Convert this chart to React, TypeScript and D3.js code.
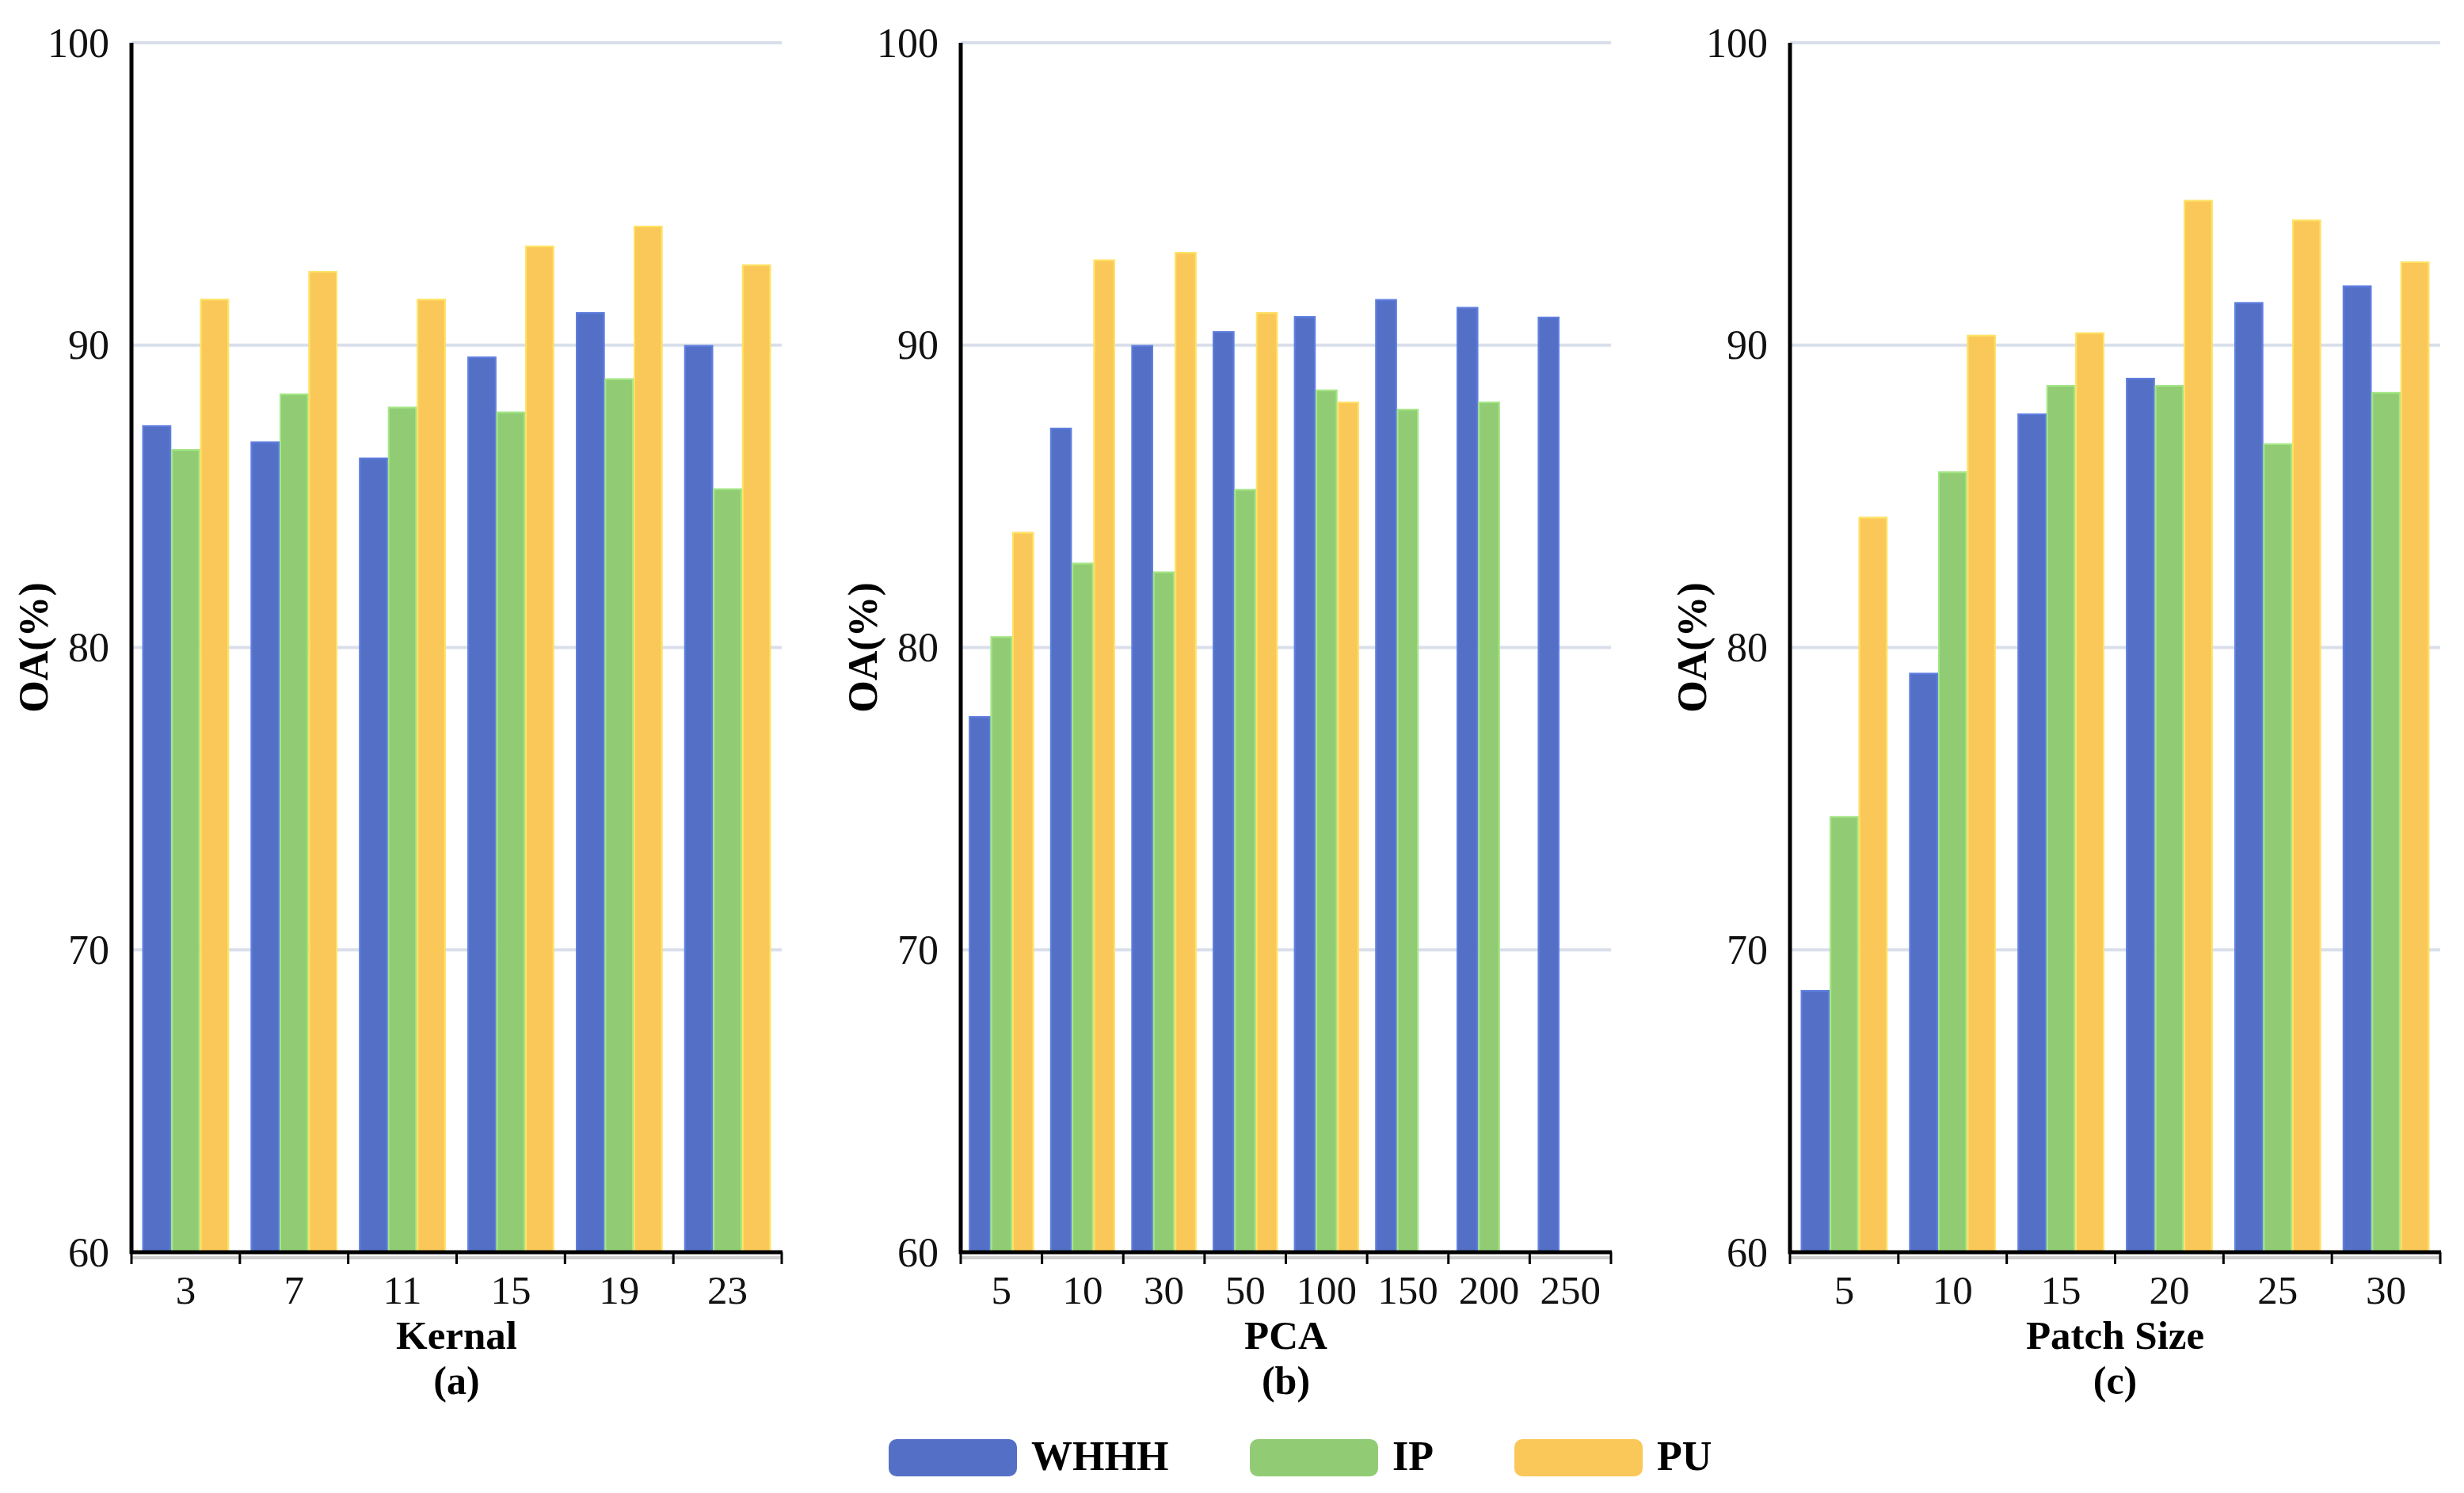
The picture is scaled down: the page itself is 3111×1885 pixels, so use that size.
import React from "react";
import * as d3 from "d3";

// ---- data ----
const kernelCats = ["3", "7", "11", "15", "19", "23"];
const kernelWHHH = [87.35, 86.81, 86.28, 89.62, 91.09, 90.0];
const kernelIP = [86.56, 88.4, 87.96, 87.8, 88.9, 85.26];
const kernelPU = [91.53, 92.45, 91.53, 93.29, 93.95, 92.67];

const pcaCats = ["5", "10", "30", "50", "100", "150", "200", "250"];
const pcaWHHH = [77.73, 87.27, 90.0, 90.46, 90.96, 91.52, 91.26, 90.94];
const pcaIP: (number | null)[] = [80.37, 82.8, 82.51, 85.24, 88.53, 87.89, 88.13, null];
const pcaPU: (number | null)[] = [83.82, 92.83, 93.08, 91.09, 88.13, null, null, null];

const patchCats = ["5", "10", "15", "20", "25", "30"];
const patchWHHH = [68.67, 79.16, 87.74, 88.92, 91.42, 91.97];
const patchIP = [74.42, 85.82, 88.68, 88.68, 86.75, 88.45];
const patchPU = [84.32, 90.34, 90.42, 94.8, 94.15, 92.77];

const seriesNames = ["WHHH", "IP", "PU"];
const yTicks = [60, 70, 80, 90, 100];
const panelTitles = ["Kernal", "PCA", "Patch Size"];
const panelSubs = ["(a)", "(b)", "(c)"];

// ---- style / layout ----
const colors = ["#5470c6", "#91cc75", "#fac858"];
const W = 3111;
const H = 1885;
const TOP = 54;
const BASE = 1581;
const PW = 821;
const panelX = [166, 1213, 2260];
const serif = "'Liberation Serif', 'Times New Roman', serif";
const legendX = [1122, 1578, 1912];

type Panel = { cats: string[]; series: (number | null)[][] };
const panels: Panel[] = [
  { cats: kernelCats, series: [kernelWHHH, kernelIP, kernelPU] },
  { cats: pcaCats, series: [pcaWHHH, pcaIP, pcaPU] },
  { cats: patchCats, series: [patchWHHH, patchIP, patchPU] },
];

function PanelChart({ p, i }: { p: Panel; i: number }) {
  const x0 = panelX[i];
  const y = d3.scaleLinear().domain([60, 100]).range([BASE, TOP]);
  const xb = d3
    .scaleBand<string>()
    .domain(p.cats)
    .range([x0, x0 + PW])
    .paddingInner(0.2)
    .paddingOuter(0.1);
  const xs = d3
    .scaleBand<string>()
    .domain(seriesNames)
    .range([0, xb.bandwidth()])
    .padding(0);
  const step = xb.step();
  const cx = (x0 + x0 + PW) / 2;
  return (
    <g>
      {yTicks
        .filter((t) => t > 60)
        .map((t) => (
          <line key={"g" + t} x1={x0} x2={x0 + PW} y1={y(t)} y2={y(t)} stroke="#d9dfea" strokeWidth={4} />
        ))}
      {p.cats.map((c, ci) => {
        // missing values leave no gap: remaining bars fill slots from the left
        const present = p.series
          .map((s, si) => ({ v: s[ci], si }))
          .filter((d) => d.v !== null && d.v !== undefined);
        return present.map((d, k) => {
          const bx = (xb(c) as number) + (xs(seriesNames[k]) as number);
          const by = y(d.v as number);
          const col = colors[d.si];
          return (
            <g key={c + "-" + d.si}>
              <rect x={bx} y={by} width={xs.bandwidth()} height={BASE - by} fill={col} />
              <rect
                x={bx + 1}
                y={by + 1}
                width={xs.bandwidth() - 2}
                height={BASE - by - 1}
                fill="none"
                stroke={d3.color(col)!.brighter(0.5).formatHex()}
                strokeWidth={2}
                strokeOpacity={0.7}
              />
            </g>
          );
        });
      })}
      {yTicks.map((t) => (
        <text
          key={"yl" + t}
          x={x0 - 28}
          y={y(t)}
          textAnchor="end"
          dominantBaseline="central"
          fontFamily={serif}
          fontSize={52}
          fill="#111"
        >
          {t}
        </text>
      ))}
      <line x1={x0} x2={x0 + PW} y1={BASE + 7} y2={BASE + 7} stroke="#cfcfcf" strokeWidth={4} />
      <line x1={x0} x2={x0} y1={TOP} y2={BASE + 2} stroke="#000" strokeWidth={5} />
      <line x1={x0 - 2} x2={x0 + PW + 1} y1={BASE} y2={BASE} stroke="#000" strokeWidth={5} />
      {d3.range(p.cats.length + 1).map((k) => (
        <line
          key={"t" + k}
          x1={x0 + k * step}
          x2={x0 + k * step}
          y1={BASE}
          y2={BASE + 15}
          stroke="#000"
          strokeWidth={3}
        />
      ))}
      {p.cats.map((c) => (
        <text
          key={"xl" + c}
          x={(xb(c) as number) + xb.bandwidth() / 2}
          y={1646}
          textAnchor="middle"
          fontFamily={serif}
          fontSize={51}
          fill="#111"
        >
          {c}
        </text>
      ))}
      <text x={cx} y={1703} textAnchor="middle" fontFamily={serif} fontWeight="bold" fontSize={51} fill="#000">
        {panelTitles[i]}
      </text>
      <text x={cx} y={1760} textAnchor="middle" fontFamily={serif} fontWeight="bold" fontSize={50} fill="#000">
        {panelSubs[i]}
      </text>
      <text
        transform={`translate(${x0 - 124},${(TOP + BASE) / 2}) rotate(-90)`}
        textAnchor="middle"
        dominantBaseline="central"
        fontFamily={serif}
        fontWeight="bold"
        fontSize={52}
        fill="#000"
      >
        OA(%)
      </text>
    </g>
  );
}

export default function App() {
  return (
    <svg
      width={W}
      height={H}
      viewBox={`0 0 ${W} ${H}`}
      style={{ position: "absolute", left: 0, top: 0, background: "#fff" }}
    >
      <rect x={0} y={0} width={W} height={H} fill="#fff" />
      {panels.map((p, i) => (
        <PanelChart key={i} p={p} i={i} />
      ))}
      {seriesNames.map((n, i) => (
        <g key={n}>
          <rect x={legendX[i]} y={1817} width={162} height={47} rx={10} fill={colors[i]} />
          <text
            x={legendX[i] + 180}
            y={1856}
            fontFamily={serif}
            fontWeight="bold"
            fontSize={52}
            fill="#000"
          >
            {n}
          </text>
        </g>
      ))}
    </svg>
  );
}
